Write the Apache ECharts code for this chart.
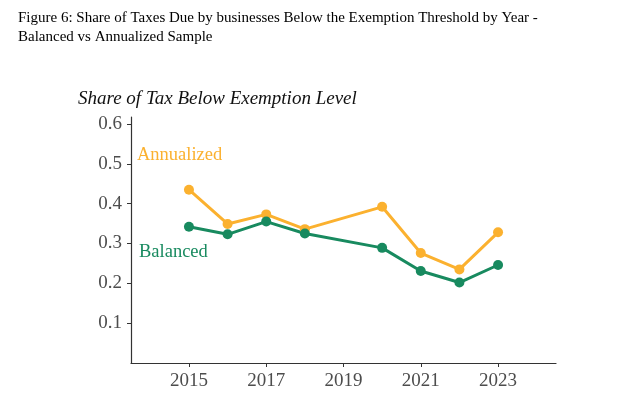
<!DOCTYPE html>
<html>
<head>
<meta charset="utf-8">
<script src="https://cdn.jsdelivr.net/npm/echarts@6/dist/echarts.min.js"></script>
<style>
  html, body { margin: 0; padding: 0; background: #fff; }
  #chart { width: 636px; height: 403px; }
</style>
</head>
<body>
<div id="chart"></div>
<script>
const years = [2015, 2016, 2017, 2018, 2020, 2021, 2022, 2023];
const annualized = [0.435, 0.349, 0.373, 0.336, 0.392, 0.276, 0.235, 0.328];
const balanced = [0.342, 0.323, 0.355, 0.325, 0.289, 0.231, 0.202, 0.246];
const xTicks = [2015, 2017, 2019, 2021, 2023];
const yTicks = [0.1, 0.2, 0.3, 0.4, 0.5, 0.6];

const orange = '#fbb12f';
const green = '#188a5f';
const serif = 'Liberation Serif';

const chart = echarts.init(document.getElementById('chart'));

const pairs = arr => years.map((y, i) => [y, arr[i]]);

chart.setOption({
  animation: false,
  grid: { left: 131, right: 80, top: 117, bottom: 40 },
  graphic: [
    {
      type: 'text', left: 18, top: 9,
      style: {
        text: 'Figure 6: Share of Taxes Due by businesses Below the Exemption Threshold by Year -\nBalanced vs Annualized Sample',
        font: '15px ' + serif, fill: '#000', lineHeight: 19
      }
    },
    {
      type: 'text', left: 78, top: 89,
      style: { text: 'Share of Tax Below Exemption Level', font: 'italic 19px ' + serif, fill: '#111' }
    },
    {
      type: 'text', left: 137, top: 146,
      style: { text: 'Annualized', font: '18.5px ' + serif, fill: orange }
    },
    {
      type: 'text', left: 139, top: 243,
      style: { text: 'Balanced', font: '18.5px ' + serif, fill: green }
    }
  ],
  xAxis: {
    type: 'value', min: 2013.5, max: 2024.5,
    splitLine: { show: false },
    axisLine: { lineStyle: { color: '#333', width: 1.2 } },
    axisTick: { length: 4, customValues: xTicks, lineStyle: { color: '#333' } },
    axisLabel: {
      customValues: xTicks, color: '#4d4d4d', fontSize: 19, fontFamily: serif, margin: 9,
      formatter: v => String(v)
    }
  },
  yAxis: {
    type: 'value', min: 0, max: 0.6175,
    splitLine: { show: false },
    axisLine: { show: true, lineStyle: { color: '#333', width: 1.2 } },
    axisTick: { show: true, length: 4, customValues: yTicks, lineStyle: { color: '#333' } },
    axisLabel: {
      customValues: yTicks, color: '#4d4d4d', fontSize: 19, fontFamily: serif, margin: 9,
      formatter: v => v.toFixed(1)
    }
  },
  series: [
    {
      name: 'Annualized', type: 'line', data: pairs(annualized),
      symbol: 'circle', symbolSize: 10,
      lineStyle: { color: orange, width: 3 }, itemStyle: { color: orange }
    },
    {
      name: 'Balanced', type: 'line', data: pairs(balanced),
      symbol: 'circle', symbolSize: 10,
      lineStyle: { color: green, width: 3 }, itemStyle: { color: green }
    }
  ]
});
</script>
</body>
</html>
